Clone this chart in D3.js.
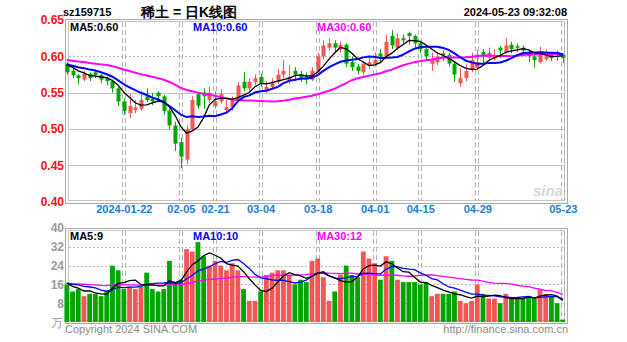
<!DOCTYPE html>
<html>
<head>
<meta charset="utf-8">
<script src="https://cdn.jsdelivr.net/npm/d3@7/dist/d3.min.js"></script>
<style>
  html, body { margin: 0; padding: 0; background: #fff; }
  svg { display: block; }
  text { font-family: "Liberation Sans", Arial, sans-serif; }
</style>
</head>
<body>
<svg id="chart" width="627" height="342"></svg>
<script>
// ---- data: sz159715 daily K line, 2024-01-08 .. 2024-05-23 ----
const dates = [
  "2024-01-08","2024-01-09","2024-01-10","2024-01-11","2024-01-12",
  "2024-01-15","2024-01-16","2024-01-17","2024-01-18","2024-01-19",
  "2024-01-22","2024-01-23","2024-01-24","2024-01-25","2024-01-26",
  "2024-01-29","2024-01-30","2024-01-31","2024-02-01","2024-02-02",
  "2024-02-05","2024-02-06","2024-02-07","2024-02-08","2024-02-19",
  "2024-02-20","2024-02-21","2024-02-22","2024-02-23","2024-02-26",
  "2024-02-27","2024-02-28","2024-02-29","2024-03-01","2024-03-04",
  "2024-03-05","2024-03-06","2024-03-07","2024-03-08","2024-03-11",
  "2024-03-12","2024-03-13","2024-03-14","2024-03-15","2024-03-18",
  "2024-03-19","2024-03-20","2024-03-21","2024-03-22","2024-03-25",
  "2024-03-26","2024-03-27","2024-03-28","2024-03-29","2024-04-01",
  "2024-04-02","2024-04-03","2024-04-08","2024-04-09","2024-04-10",
  "2024-04-11","2024-04-12","2024-04-15","2024-04-16","2024-04-17",
  "2024-04-18","2024-04-19","2024-04-22","2024-04-23","2024-04-24",
  "2024-04-25","2024-04-26","2024-04-29","2024-04-30","2024-05-06",
  "2024-05-07","2024-05-08","2024-05-09","2024-05-10","2024-05-13",
  "2024-05-14","2024-05-15","2024-05-16","2024-05-17","2024-05-20",
  "2024-05-21","2024-05-22","2024-05-23"
];

const opens = [
  .590,.580,.574,.568,.576,.578,.574,.570,.566,.556,
  .538,.522,.526,.528,.545,.542,.550,.545,.525,.505,
  .482,.458,.500,.548,.550,.540,.532,.538,.526,.530,
  .540,.565,.556,.565,.572,.552,.558,.565,.575,.566,
  .580,.575,.572,.568,.580,.600,.612,.618,.610,.616,
  .592,.586,.578,.588,.590,.604,.600,.628,.612,.625,
  .632,.628,.618,.610,.590,.592,.604,.602,.590,.563,
  .570,.582,.584,.606,.598,.596,.612,.606,.616,.614,
  .612,.606,.600,.592,.596,.602,.606,.602
];
const highs = [
  .592,.583,.576,.580,.578,.580,.576,.572,.568,.558,
  .542,.548,.540,.552,.556,.550,.552,.547,.528,.510,
  .488,.505,.545,.551,.556,.558,.552,.555,.540,.545,
  .565,.578,.570,.575,.576,.566,.570,.582,.595,.588,
  .585,.580,.578,.585,.605,.622,.625,.622,.620,.618,
  .600,.590,.594,.598,.605,.610,.630,.636,.632,.630,
  .634,.630,.620,.612,.605,.606,.608,.605,.592,.584,
  .590,.605,.609,.610,.612,.610,.614,.625,.620,.618,
  .615,.608,.604,.613,.610,.606,.608,.604
];
const lows = [
  .575,.570,.562,.566,.566,.570,.563,.560,.550,.532,
  .520,.515,.522,.525,.537,.533,.540,.520,.500,.470,
  .446,.452,.498,.528,.528,.536,.528,.535,.522,.525,
  .538,.552,.552,.560,.558,.550,.555,.562,.570,.562,
  .566,.565,.562,.566,.578,.596,.608,.606,.605,.585,
  .580,.575,.574,.582,.586,.592,.598,.610,.608,.615,
  .616,.612,.605,.596,.580,.588,.594,.586,.565,.558,
  .566,.578,.582,.590,.594,.594,.598,.604,.604,.606,
  .600,.592,.585,.590,.594,.594,.594,.591
];
const closes = [
  .578,.574,.570,.576,.570,.574,.568,.566,.556,.538,
  .525,.532,.530,.540,.540,.538,.545,.525,.505,.480,
  .462,.500,.540,.532,.545,.550,.538,.548,.530,.540,
  .560,.556,.565,.570,.562,.558,.565,.575,.580,.572,
  .575,.570,.568,.580,.600,.615,.618,.612,.616,.590,
  .585,.580,.590,.592,.595,.600,.620,.615,.625,.622,
  .628,.618,.610,.600,.595,.600,.602,.590,.575,.570,
  .580,.595,.592,.600,.605,.600,.608,.615,.610,.612,
  .608,.600,.595,.605,.600,.598,.602,.598
];
// volume, 万手
const volumes = [
  16,13,14,11,12,12,11,13,24,22,
  14,15,14,15,21,14,13,14,26,17,
  18,31,30,34,28,24,26,24,22,25,
  22,14, 9, 9,13,20,21,22,22,20,
  16,18,17,26,27,19, 9,13,20,24,
  20,19,30,27,25,18,28,26,18,17,
  17,17,16,17,11,12,12,12,13, 9,
   8, 9,16,12,10,10, 8,12,10,10,
  10,11,10,14,12,11, 8, 1
];

// closes / volumes of the sessions just before 2024-01-08, only used to seed the moving averages
const seedCloses = [
  .604,.602,.600,.606,.603,.598,.595,.600,.602,.598,
  .596,.600,.598,.594,.596,.598,.592,.596,.594,.590,
  .592,.590,.588,.590,.586,.592,.594,.590,.588
];
const seedVolumes = [
  15,18,16,17,14,19,16,15,18,17,
  16,15,17,18,16,14,17,19,16,15,
  18,16,17,15,16,20,18,17,12
];

const priceTicks = [0.65, 0.60, 0.55, 0.50, 0.45, 0.40];
const volumeTicks = [40, 32, 24, 16, 8];
const dateTicks = ["2024-01-22","2024-02-05","2024-02-21","2024-03-04","2024-03-18",
                   "2024-04-01","2024-04-15","2024-04-29","2024-05-23"];
const dateTickLabels = ["2024-01-22","02-05","02-21","03-04","03-18","04-01","04-15","04-29","05-23"];
const maPeriods = [5, 10, 30];
const maColors = ["#000000", "#0000ff", "#ff00ff"];

// ---- drawing ----
const svg = d3.select("#chart");
const UP = "#f25757", DOWN = "#00a600";

const main = { left: 65, right: 567, top: 19, bottom: 203 };
const vol  = { left: 65, right: 567, top: 228, bottom: 323 };

const x = d3.scalePoint().domain(dates).range([66.85, 562.8]);
const y = d3.scaleLinear().domain([0.40, 0.65]).range([201.8, 20]);
const yv = d3.scaleLinear().domain([0, 40]).range([322, 228]);

const candles = dates.map((d, i) => ({
  date: d, open: opens[i], high: highs[i], low: lows[i], close: closes[i], volume: volumes[i]
}));
const isUp = c => c.close >= c.open;

function movingAverage(values, seed, n) {
  const all = seed.concat(values);
  const off = seed.length;
  return values.map((_, i) => {
    const end = off + i + 1;
    const start = Math.max(0, end - n);
    return d3.mean(all.slice(start, end));
  });
}

// frames + grids
function panelFrame(p) {
  const g = svg.append("g");
  g.append("rect").attr("x", p.left + 0.5).attr("y", p.top + 0.5)
    .attr("width", p.right - p.left).attr("height", p.bottom - p.top)
    .attr("fill", "none").attr("stroke", "#a8a8a8");
  g.append("rect").attr("x", p.left + 3.5).attr("y", p.top + 2.5)
    .attr("width", p.right - p.left - 6).attr("height", p.bottom - p.top - 5)
    .attr("fill", "none").attr("stroke", "#c4c4c4");
  return g;
}

function verticalGrid(p) {
  const g = svg.append("g");
  dateTicks.forEach(d => {
    const cx = Math.round(x(d));
    [-1.5, 1.5].forEach(dx => {
      g.append("line").attr("x1", cx + dx).attr("x2", cx + dx)
        .attr("y1", p.top + 3).attr("y2", p.bottom - 2)
        .attr("stroke", "#b4b4b4").attr("stroke-dasharray", "5,3");
    });
  });
}

panelFrame(main);
panelFrame(vol);

// price gridlines
const gridG = svg.append("g");
priceTicks.slice(1, -1).forEach((t, k) => {
  const yy = Math.round(y(t)) + 0.5;
  gridG.append("line").attr("x1", main.left + 4).attr("x2", main.right - 3)
    .attr("y1", yy).attr("y2", yy)
    .attr("stroke", k === 0 ? "#b8b8b8" : "#c0c0c0")
    .attr("stroke-dasharray", k === 0 ? "2,2" : null);
});
volumeTicks.slice(1).forEach(t => {
  const yy = Math.round(yv(t)) + 0.5;
  gridG.append("line").attr("x1", vol.left + 4).attr("x2", vol.right - 3)
    .attr("y1", yy).attr("y2", yy)
    .attr("stroke", "#c0c0c0").attr("stroke-dasharray", "2,2");
});
verticalGrid(main);
verticalGrid(vol);

// watermark
svg.append("text").attr("x", 548).attr("y", 196).attr("text-anchor", "middle")
  .attr("font-size", 15).attr("font-weight", "bold").attr("font-style", "italic")
  .attr("fill", "#d6d6d6").text("sina");

// candles
const cw = 4;
const cg = svg.append("g");
cg.selectAll("line.wick").data(candles).join("line")
  .attr("x1", d => Math.round(x(d.date)) + 0.5).attr("x2", d => Math.round(x(d.date)) + 0.5)
  .attr("y1", d => y(d.high)).attr("y2", d => y(d.low))
  .attr("stroke", d => isUp(d) ? UP : DOWN).attr("stroke-width", 1);
cg.selectAll("rect.body").data(candles).join("rect")
  .attr("x", d => Math.round(x(d.date)) - cw / 2 + 0.5)
  .attr("y", d => y(Math.max(d.open, d.close)))
  .attr("width", cw)
  .attr("height", d => Math.max(1, Math.abs(y(d.open) - y(d.close))))
  .attr("fill", d => isUp(d) ? UP : DOWN);

// price moving averages
const priceMA = maPeriods.map(n => movingAverage(closes, seedCloses, n));
const maWidth = [1.3, 2, 2];
priceMA.slice().reverse().forEach((series, k) => {
  const idx = priceMA.length - 1 - k;
  svg.append("path").datum(series)
    .attr("fill", "none").attr("stroke", maColors[idx]).attr("stroke-width", maWidth[idx])
    .attr("d", d3.line().x((_, i) => x(dates[i])).y(v => y(v)));
});

// volume bars
const vw = 4.8;
svg.append("g").selectAll("rect").data(candles).join("rect")
  .attr("x", d => x(d.date) - vw / 2)
  .attr("y", d => yv(d.volume))
  .attr("width", vw)
  .attr("height", d => yv(0) - yv(d.volume))
  .attr("fill", d => isUp(d) ? UP : DOWN);

const volMA = maPeriods.map(n => movingAverage(volumes, seedVolumes, n));
volMA.slice().reverse().forEach((series, k) => {
  const idx = volMA.length - 1 - k;
  svg.append("path").datum(series)
    .attr("fill", "none").attr("stroke", maColors[idx]).attr("stroke-width", idx === 0 ? 1.3 : 1.3)
    .attr("d", d3.line().x((_, i) => x(dates[i])).y(v => yv(v)));
});

// axes (labels only)
const yAxis = d3.axisLeft(y).tickValues(priceTicks).tickSize(0).tickPadding(0)
  .tickFormat(d3.format(".2f"));
const ya = svg.append("g").attr("transform", "translate(64,0)").call(yAxis);
ya.select(".domain").remove();
ya.selectAll("text").attr("fill", "#ff1010").attr("font-size", 12).attr("font-weight", "bold")
  .attr("font-family", "Liberation Sans, Arial, sans-serif");

const vAxis = d3.axisLeft(yv).tickValues(volumeTicks).tickSize(0).tickPadding(0);
const va = svg.append("g").attr("transform", "translate(64,0)").call(vAxis);
va.select(".domain").remove();
va.selectAll("text").attr("fill", "#9a9a9a").attr("font-size", 12).attr("font-weight", "bold")
  .attr("font-family", "Liberation Sans, Arial, sans-serif");
svg.append("text").attr("x", 63).attr("y", 327).attr("text-anchor", "end")
  .attr("font-size", 12).attr("fill", "#9a9a9a").text("万");

const xAxis = d3.axisBottom(x).tickValues(dateTicks).tickSize(0).tickPadding(0)
  .tickFormat((d, i) => dateTickLabels[i]);
const xa = svg.append("g").attr("transform", "translate(0,205)").call(xAxis);
xa.select(".domain").remove();
xa.selectAll("text").attr("fill", "#1a7dd0").attr("font-size", 11).attr("font-weight", "bold")
  .attr("font-family", "Liberation Sans, Arial, sans-serif");

// header
const fmt2 = d3.format(".2f");
svg.append("text").attr("x", 63).attr("y", 16).attr("font-size", 11).attr("font-weight", "bold")
  .attr("fill", "#000").text("sz159715");
svg.append("text").attr("x", 141).attr("y", 17).attr("font-size", 14).attr("font-weight", "bold")
  .attr("font-family", "Noto Sans CJK SC, sans-serif").attr("fill", "#000").text("稀土 = 日K线图");
svg.append("text").attr("x", 567).attr("y", 16).attr("text-anchor", "end").attr("font-size", 11)
  .attr("font-weight", "bold").attr("fill", "#000").text("2024-05-23 09:32:08");

const legendX = [70, 193, 317];
maPeriods.forEach((n, k) => {
  const last = priceMA[k][priceMA[k].length - 1];
  svg.append("text").attr("x", legendX[k]).attr("y", 31).attr("font-size", 11).attr("font-weight", "bold")
    .attr("fill", maColors[k]).text(`MA${n}:${fmt2(last)}`);
  const lastV = volMA[k][volMA[k].length - 1];
  svg.append("text").attr("x", legendX[k]).attr("y", 240).attr("font-size", 11).attr("font-weight", "bold")
    .attr("fill", maColors[k]).text(`MA${n}:${Math.round(lastV)}`);
});

// footer
svg.append("text").attr("x", 65).attr("y", 333).attr("font-size", 11).attr("fill", "#8a8a8a")
  .text("Copyright 2024 SINA.COM");
svg.append("text").attr("x", 568).attr("y", 333).attr("text-anchor", "end").attr("font-size", 11)
  .attr("fill", "#8a8a8a").text("http://finance.sina.com.cn");
</script>
</body>
</html>
